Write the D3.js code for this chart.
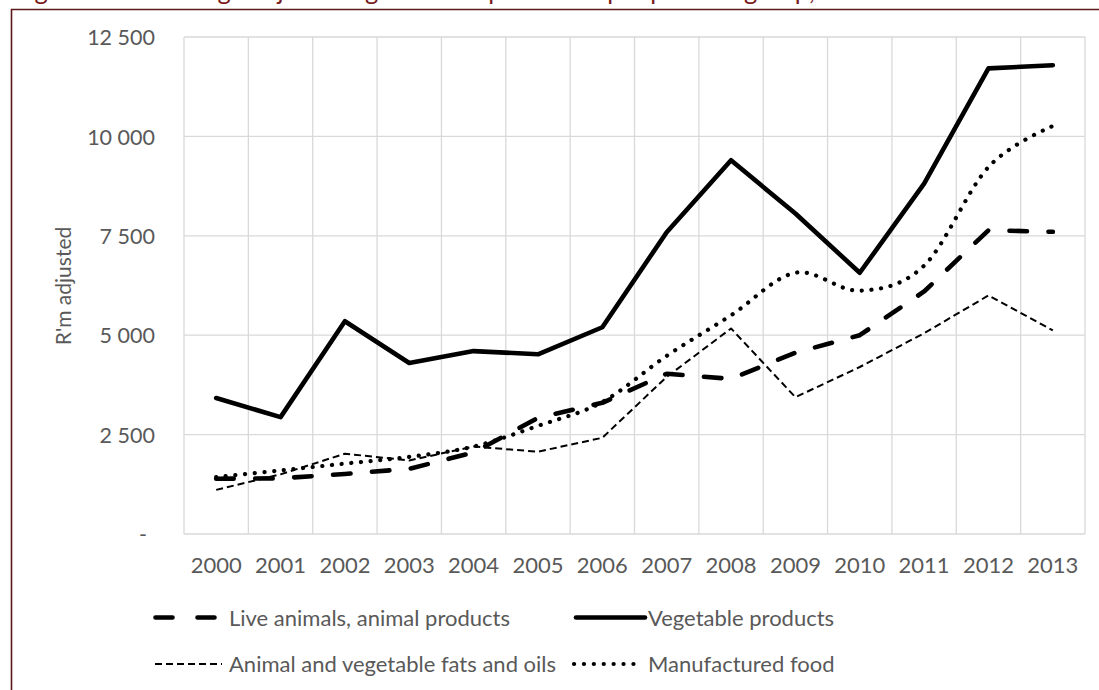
<!DOCTYPE html>
<html><head><meta charset="utf-8">
<script src="https://cdn.jsdelivr.net/npm/d3@7"></script>
<style>
html,body{margin:0;padding:0;background:#fff;}
svg{display:block;}
text{font-family:Lato,"Open Sans",sans-serif;}
</style></head>
<body>
<svg id="c" width="1099" height="690"></svg>
<script>
const years = ["2000","2001","2002","2003","2004","2005","2006","2007","2008","2009","2010","2011","2012","2013"];
const liveAnimals = [1390,1400,1510,1640,2050,2920,3300,4030,3900,4560,5000,6100,7640,7600];
const vegetable = [3420,2940,5350,4300,4600,4520,5200,7590,9400,8060,6570,8810,11710,11790];
const fatsOils = [1110,1500,2020,1850,2200,2070,2420,3950,5170,3440,4200,5050,6000,5120];
const manufactured = [1430,1600,1770,1940,2200,2720,3320,4480,5500,6570,6120,6750,9230,10260];
const yTicks = [0,2500,5000,7500,10000,12500];
const seriesNames = ["Live animals, animal products","Vegetable products","Animal and vegetable fats and oils","Manufactured food"];
const titleText = "Figure 14: The range adjusted agri-food import value per product group, 2000 - 2013";

const svg = d3.select("#c");
const pL = 184, pR = 1085, pT = 37, pB = 534;
const FS = 22;

// frame + clipped title
svg.append("text").attr("x", 14).attr("y", -0.5).attr("fill", "#7a1a1a")
  .attr("font-size", 25.5).attr("font-family", "Lato, sans-serif")
  .text(titleText);
svg.append("path").attr("d", "M11.5,690V9.5H1099").attr("fill","none").attr("stroke","#5a1a1a").attr("stroke-width",1.6);

const x = d3.scaleBand().domain(years).range([pL, pR]);
const y = d3.scaleLinear().domain([0, 12500]).range([pB, pT]);

// gridlines
const g = svg.append("g");
g.selectAll("line.h").data(yTicks).join("line")
  .attr("x1", pL).attr("x2", pR).attr("y1", d => y(d)).attr("y2", d => y(d))
  .attr("stroke", "#d9d9d9").attr("stroke-width", 1.3);
const bounds = years.map(d => x(d)).concat([x(years[years.length-1]) + x.bandwidth()]);
g.selectAll("line.v").data(bounds).join("line")
  .attr("x1", d => d).attr("x2", d => d).attr("y1", pT).attr("y2", pB)
  .attr("stroke", "#d9d9d9").attr("stroke-width", 1.3);

// y axis labels
const fmt = v => v === 0 ? "-" : d3.format(",")(v).replace(/,/g, " ");
const yAxis = d3.axisLeft(y).tickValues(yTicks).tickSize(0).tickPadding(0).tickFormat(fmt);
const ya = svg.append("g").attr("transform", `translate(${pL - 29},0)`).call(yAxis);
ya.select(".domain").remove();
ya.selectAll("text").attr("fill", "#595959").attr("font-size", 21.5).attr("font-family", "Lato, sans-serif").attr("dy", "0.36em");
ya.selectAll(".tick").filter(d => d === 0).select("text").attr("dx", -8);

// x axis labels
const xAxis = d3.axisBottom(x).tickSize(0).tickPadding(0);
const xa = svg.append("g").attr("transform", `translate(0,573)`).call(xAxis);
xa.select(".domain").remove();
xa.selectAll("text").attr("fill", "#595959").attr("font-size", FS).attr("font-family", "Lato, sans-serif").attr("dy", 0);

// y title
svg.append("text").attr("transform", "translate(71,286) rotate(-90)").attr("text-anchor", "middle")
  .attr("fill", "#595959").attr("font-size", 21).attr("font-family", "Lato, sans-serif").text("R'm adjusted");

const cx = d => x(d) + x.bandwidth() / 2;
const styles = [
  {data: liveAnimals, w: 4.6, dash: "17.5,21.5", cap: "round", curve: d3.curveLinear},
  {data: vegetable, w: 4.6, dash: null, cap: "round", curve: d3.curveLinear},
  {data: fatsOils, w: 2, dash: "7,4", cap: "butt", curve: d3.curveLinear},
  {data: manufactured, w: 4.2, dash: "0.1,9.6", cap: "round", curve: d3.curveCardinal.tension(0)}
];
const order = [2, 3, 0, 1];
order.forEach(i => {
  const s = styles[i];
  const line = d3.line().x((d, k) => cx(years[k])).y(d => y(d)).curve(s.curve);
  svg.append("path").attr("d", line(s.data)).attr("fill", "none").attr("stroke", "#000")
    .attr("stroke-width", s.w).attr("stroke-linecap", s.cap).attr("stroke-linejoin", "round")
    .attr("stroke-dasharray", s.dash);
});

// legend
const legendPos = [
  {x1: 155.5, x2: 215, tx: 229, ty: 617.5, dash: "17,25"},
  {x1: 576, x2: 645, tx: 648, ty: 617.5, dash: null},
  {x1: 155, x2: 222, tx: 229, ty: 664, dash: "7,4"},
  {x1: 574, x2: 636, tx: 648, ty: 664, dash: "0.1,9.8"}
];
legendPos.forEach((p, i) => {
  const s = styles[i];
  svg.append("line").attr("x1", p.x1).attr("x2", p.x2).attr("y1", p.ty).attr("y2", p.ty)
    .attr("stroke", "#000").attr("stroke-width", s.w).attr("stroke-linecap", s.cap)
    .attr("stroke-dasharray", p.dash);
  svg.append("text").attr("x", p.tx).attr("y", p.ty + 8)
    .attr("fill", "#595959").attr("font-size", FS).attr("font-family", "Lato, sans-serif")
    .text(seriesNames[i]);
});
</script>
</body></html>
